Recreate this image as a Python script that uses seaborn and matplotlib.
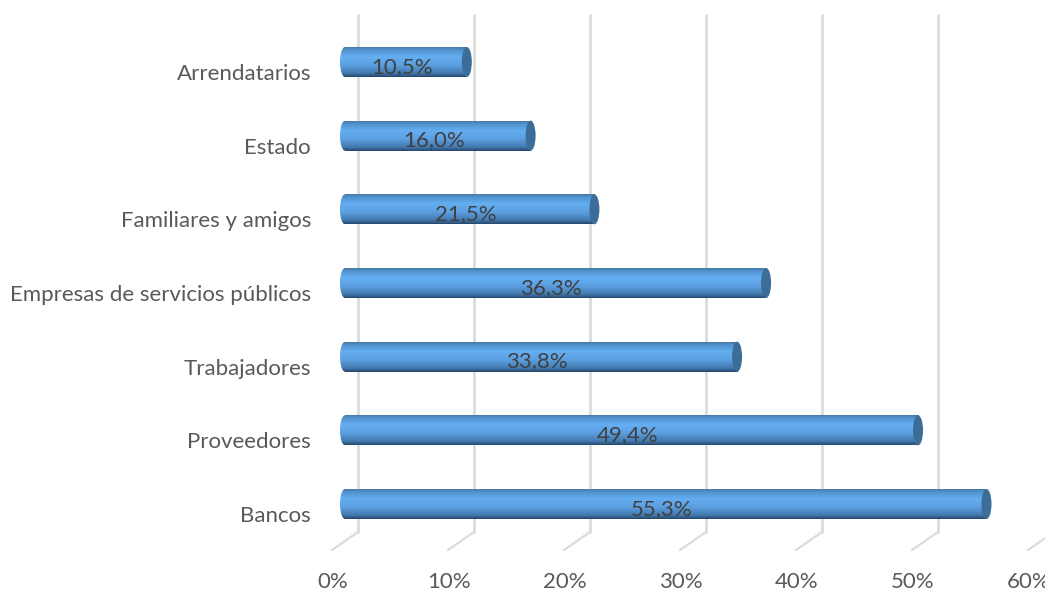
import numpy as np
import pandas as pd
import matplotlib.pyplot as plt
import seaborn as sns
from matplotlib.colors import LinearSegmentedColormap
from matplotlib.patches import Ellipse
from matplotlib.transforms import ScaledTranslation

categorias = ["Arrendatarios", "Estado", "Familiares y amigos",
              "Empresas de servicios públicos", "Trabajadores", "Proveedores", "Bancos"]
valores = [10.5, 16.0, 21.5, 36.3, 33.8, 49.4, 55.3]
ticks_x = [0, 10, 20, 30, 40, 50, 60]

W, H = 1045, 592
PX = 11.6  # pixels per 1%
x0, top, bottom = 345, 15, 532
paso = 73.67
prof = 13 / PX  # 3d depth of the walls, in % units

sns.set_theme(style="white")
plt.rcParams["font.family"] = ["Lato", "DejaVu Sans"]
gris = "#595959"

fig = plt.figure(figsize=(W / 100, H / 100), dpi=100)
ax = fig.add_axes([x0 / W, 1 - bottom / H, (W - x0) / W, (bottom - top) / H])

df = pd.DataFrame({"categoria": categorias, "valor": valores})
sns.barplot(data=df, y="categoria", x="valor", order=categorias, color="#5ea7ea",
            width=30 / paso, ax=ax, zorder=3)

xlim = (0, (W - x0) / PX)
ylim = ((bottom - 62) / paso, (top - 62) / paso)

# cylinder shading, top to bottom
cmap = LinearSegmentedColormap.from_list("cilindro", [(0, "#47789f"), (0.07, "#4f8fca"), (0.32, "#64aef2"),
                                                      (0.6, "#5c9fe0"), (0.88, "#4279af"), (1, "#26486a")])
grad = np.linspace(0, 1, 64).reshape(-1, 1)
rx = 10 / PX

for barra in list(ax.patches):
    xa, ya = barra.get_x(), barra.get_y()
    ancho, alto = barra.get_width(), barra.get_height()
    barra.set_visible(False)
    img = ax.imshow(grad, cmap=cmap, aspect="auto", extent=(xa, xa + ancho, ya + alto, ya), zorder=3)
    img.set_clip_on(False)
    img2 = ax.imshow(grad, cmap=cmap, aspect="auto", extent=(-rx / 2, rx / 2, ya + alto, ya), zorder=3)
    img2.set_clip_path(Ellipse((0, ya + alto / 2), rx, alto, transform=ax.transData))
    img2.set_clip_box(fig.bbox)
    tapa = Ellipse((ancho, ya + alto / 2), rx, alto, fc="#3c6d99", ec="none", zorder=4, clip_on=False)
    ax.add_patch(tapa)

for i, v in enumerate(valores):
    ax.annotate(f"{v:.1f}%".replace(".", ","), xy=(v / 2, i), xytext=(-3, -3.5), textcoords="offset points",
                ha="center", va="center", fontsize=16, color="#404040", zorder=6)

# wall gridlines and floor strokes
tr = ax.get_xaxis_transform()
for t in ticks_x:
    ax.plot([t + prof] * 2, [0, 1], transform=tr, color="#dcdcdc", lw=2, zorder=1, clip_on=False)
    ax.plot([t + prof, t - prof], [0, -18 / (bottom - top)], transform=tr, color="#dcdcdc", lw=1.6,
            zorder=1, clip_on=False)

ax.set_xlim(xlim)
ax.set_ylim(ylim)
ax.set_xticks(ticks_x)
ax.set_xticklabels([f"{t}%" for t in ticks_x])
ax.set_yticks(range(len(categorias)))
ax.set_yticklabels(categorias)
ax.set_xlabel("")
ax.set_ylabel("")
ax.tick_params(axis="x", length=0, pad=29, labelsize=16, labelcolor=gris)
ax.tick_params(axis="y", length=0, pad=24.5, labelsize=16, labelcolor=gris)
ax.patch.set_alpha(0)
sns.despine(ax=ax, left=True, bottom=True)

for lab in ax.get_xticklabels():
    lab.set_transform(lab.get_transform() + ScaledTranslation(-12 / 100, 0, fig.dpi_scale_trans))
for lab in ax.get_yticklabels():
    lab.set_transform(lab.get_transform() + ScaledTranslation(0, -10 / 100, fig.dpi_scale_trans))

fig.savefig("out.png", dpi=100)
